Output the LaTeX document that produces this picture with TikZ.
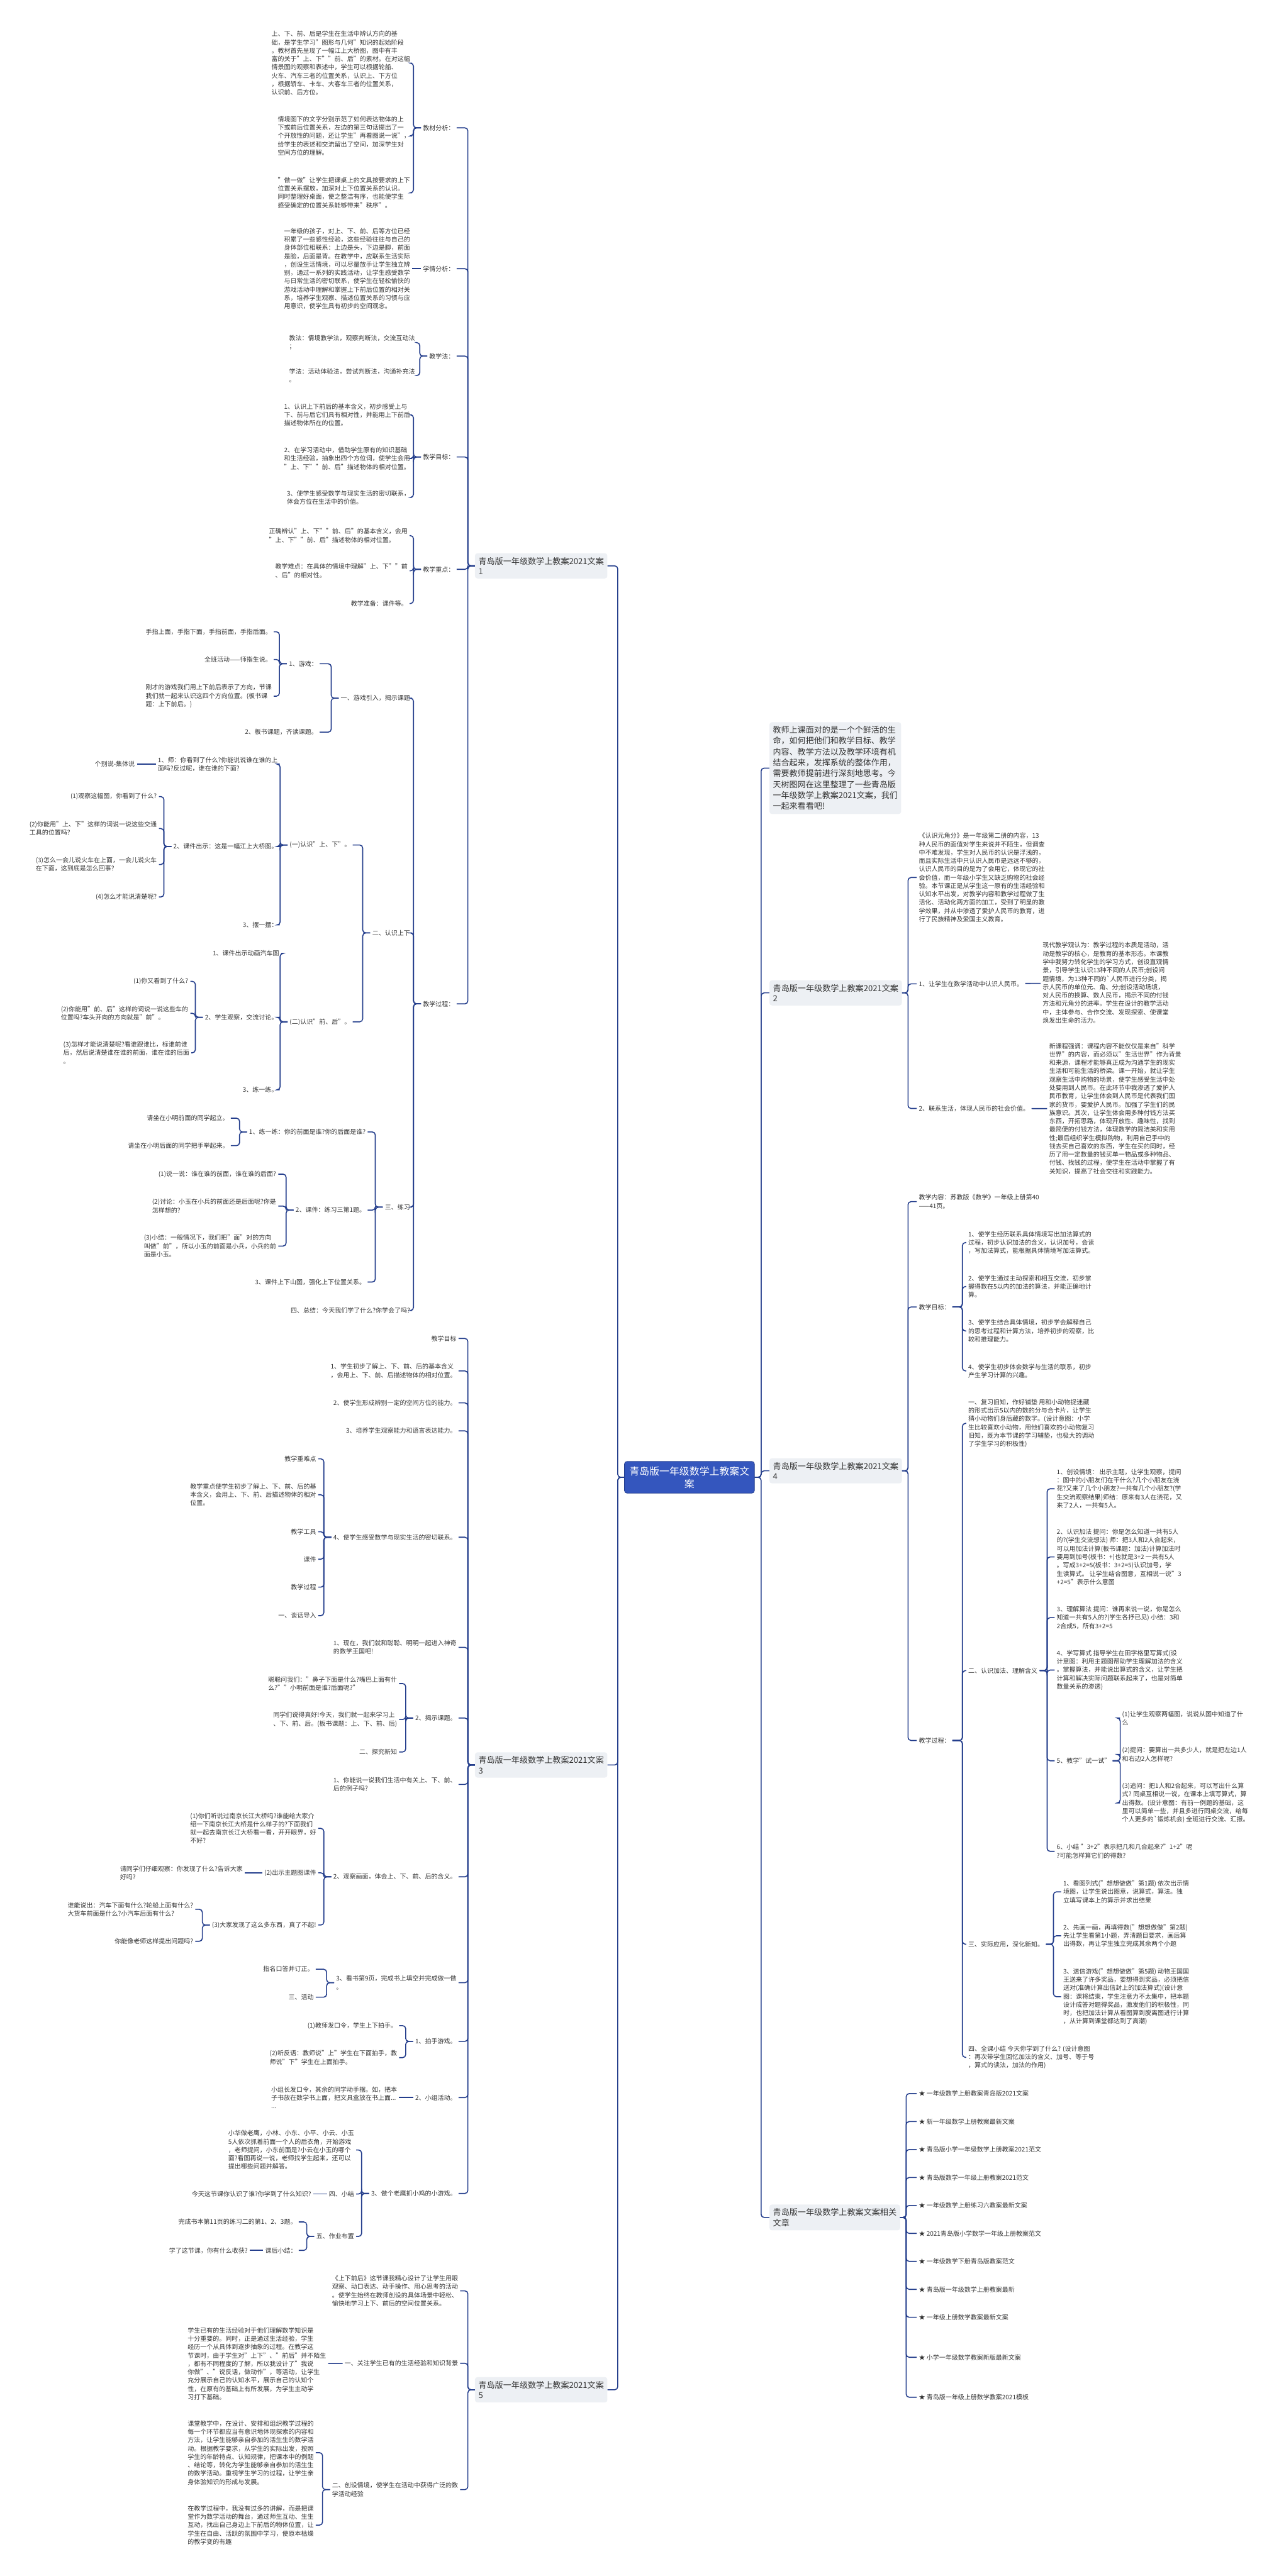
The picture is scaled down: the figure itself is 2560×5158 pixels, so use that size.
\documentclass[tikz,border=0pt]{standalone}
\usepackage{fontspec}
\setmainfont{Noto Sans CJK SC}
\usepackage{tikz}
\definecolor{mapline}{RGB}{36,62,140}
\definecolor{maptext}{RGB}{51,51,51}
\definecolor{topicbg}{RGB}{237,240,244}
\definecolor{rootbg}{RGB}{52,86,190}
\tikzset{
  txt/.style  ={font=\fontsize{12.6}{16.7}\selectfont, text=maptext, align=left, inner xsep=4pt, inner ysep=2pt},
  tl/.style   ={txt, anchor=east},
  tr/.style   ={txt, anchor=west},
  topic/.style={fill=topicbg, rounded corners=5pt, text=maptext, align=left, inner xsep=7pt, inner ysep=8pt, font=\fontsize{16.5}{20.5}\selectfont},
  intro/.style={topic, font=\fontsize{16.4}{21.8}\selectfont, anchor=west},
  root/.style ={fill=rootbg, draw=mapline, line width=1pt, rounded corners=5pt, text=white, align=center, inner xsep=10pt, inner ysep=10pt, font=\fontsize{20}{25}\selectfont},
  lk/.style   ={draw=mapline, line width=2pt, rounded corners=6pt},
}

\begin{document}
\begin{tikzpicture}[x=1pt,y=-1pt]
  \useasboundingbox (0,0) rectangle (2560,5158);
  \node[root] (root) at (1380,2958) {青岛版一年级数学上教案文\\案};
  \node[topic,anchor=east] (w1) at (1216,1133) {青岛版一年级数学上教案2021文案\\1};
  \node[topic,anchor=east] (w3) at (1216,3534) {青岛版一年级数学上教案2021文案\\3};
  \node[topic,anchor=east] (w5) at (1216,4785) {青岛版一年级数学上教案2021文案\\5};
  \node[intro] (intro) at (1540,1538) {教师上课面对的是一个个鲜活的生\\命，如何把他们和教学目标、教学\\内容、教学方法以及教学环境有机\\结合起来，发挥系统的整体作用，\\需要教师提前进行深刻地思考。今\\天树图网在这里整理了一些青岛版\\一年级数学上教案2021文案，我们\\一起来看看吧!};
  \node[topic,anchor=west] (w2) at (1540,1988) {青岛版一年级数学上教案2021文案\\2};
  \node[topic,anchor=west] (w4) at (1540,2945) {青岛版一年级数学上教案2021文案\\4};
  \node[topic,anchor=west] (w6) at (1540,4440) {青岛版一年级数学上教案文案相关\\文章};
  \foreach \t in {w1,w3,w5} \draw[lk] (root.west) -- ++(-13,0) |- (\t.east);
  \foreach \t in {intro,w2,w4,w6} \draw[lk] (root.east) -- ++(13,0) |- (\t.west);

  % 文案1
  \node[tl] (w1a) at (914,256) {教材分析：};
  \node[tl] (w1b) at (914,538) {学情分析：};
  \node[tl] (w1c) at (914,713) {教学法：};
  \node[tl] (w1d) at (914,915) {教学目标：};
  \node[tl] (w1e) at (914,1140) {教学重点：};
  \node[tl] (w1f) at (914,2010) {教学过程：};
  \foreach \c in {w1a,w1b,w1c,w1d,w1e,w1f} \draw[lk] (w1.west) -- ++(-14,0) |- (\c.east);
  \node[tl] (w1a1) at (825,126.5) {上、下、前、后是学生在生活中辨认方向的基\\础，是学生学习"图形与几何"知识的起始阶段\\。教材首先呈现了一幅江上大桥图，图中有丰\\富的关于"上、下""前、后"的素材。在对这幅\\情景图的观察和表述中，学生可以根据轮船、\\火车、汽车三者的位置关系，认识上、下方位\\，根据轿车、卡车、大客车三者的位置关系，\\认识前、后方位。};
  \node[tl] (w1a2) at (825,272) {情境图下的文字分别示范了如何表达物体的上\\下或前后位置关系，左边的第三句话提出了一\\个开放性的问题，还让学生"再看图说一说"，\\给学生的表述和交流留出了空间，加深学生对\\空间方位的理解。};
  \node[tl] (w1a3) at (825,386) {"做一做"让学生把课桌上的文具按要求的上下\\位置关系摆放，加深对上下位置关系的认识。\\同时整理好桌面，使之整洁有序，也能使学生\\感受确定的位置关系能够带来"秩序"。};
  \foreach \c in {w1a1,w1a2,w1a3} \draw[lk] (w1a.west) -- ++(-15,0) |- (\c.east);
  \node[tl] (w1b1) at (825,538) {一年级的孩子，对上、下、前、后等方位已经\\积累了一些感性经验，这些经验往往与自己的\\身体部位相联系：上边是头，下边是脚，前面\\是脸，后面是背。在教学中，应联系生活实际\\，创设生活情境，可以尽量放手让学生独立辨\\别，通过一系列的实践活动，让学生感受数学\\与日常生活的密切联系，使学生在轻松愉快的\\游戏活动中理解和掌握上下前后位置的相对关\\系，培养学生观察、描述位置关系的习惯与应\\用意识，使学生具有初步的空间观念。};
  \draw[lk] (w1b) -- (w1b1);
  \node[tl] (w1c1) at (835,686) {教法：情境教学法，观察判断法，交流互动法\\；};
  \node[tl] (w1c2) at (835,752) {学法：活动体验法，尝试判断法，沟通补充法\\。};
  \foreach \c in {w1c1,w1c2} \draw[lk] (w1c.west) -- ++(-15,0) |- (\c.east);
  \node[tl] (w1d1) at (825,830.6) {1、认识上下前后的基本含义，初步感受上与\\下、前与后它们具有相对性，并能用上下前后\\描述物体所在的位置。};
  \node[tl] (w1d2) at (825,918) {2、在学习活动中，借助学生原有的知识基础\\和生活经验，抽象出四个方位词，使学生会用\\"上、下""前、后"描述物体的相对位置。};
  \node[tl] (w1d3) at (825,996) {3、使学生感受数学与现实生活的密切联系，\\体会方位在生活中的价值。};
  \foreach \c in {w1d1,w1d2,w1d3} \draw[lk] (w1d.west) -- ++(-15,0) |- (\c.east);
  \node[tl] (w1e1) at (820,1072.5) {正确辨认"上、下""前、后"的基本含义，会用\\"上、下""前、后"描述物体的相对位置。};
  \node[tl] (w1e2) at (820,1143) {教学难点：在具体的情境中理解"上、下""前\\、后"的相对性。};
  \node[tl] (w1e3) at (820,1208.5) {教学准备：课件等。};
  \foreach \c in {w1e1,w1e2,w1e3} \draw[lk] (w1e.west) -- ++(-15,0) |- (\c.east);
  \node[tl] (w1f1) at (825,1398) {一、游戏引入，揭示课题};
  \node[tl] (w1f2) at (825,1868) {二、认识上下};
  \node[tl] (w1f3) at (825,2417) {三、练习};
  \node[tl] (w1f4) at (825,2624) {四、总结：今天我们学了什么?你学会了吗?};
  \foreach \c in {w1f1,w1f2,w1f3,w1f4} \draw[lk] (w1f.west) -- ++(-15,0) |- (\c.east);
  \node[tl] (g1) at (640,1329) {1、游戏：};
  \node[tl] (g2) at (640,1466) {2、板书课题，齐读课题。};
  \foreach \c in {g1,g2} \draw[lk] (w1f1.west) -- ++(-15,0) |- (\c.east);
  \node[tl] (g1a) at (548,1265) {手指上面，手指下面，手指前面，手指后面。};
  \node[tl] (g1b) at (548,1320.5) {全班活动——师指生说。};
  \node[tl] (g1c) at (548,1394) {刚才的游戏我们用上下前后表示了方向，节课\\我们就一起来认识这四个方向位置。(板书课\\题：上下前后。)};
  \foreach \c in {g1a,g1b,g1c} \draw[lk] (g1.west) -- ++(-15,0) |- (\c.east);
  \node[tl] (s1) at (706,1692) {(一)认识"上、下"。};
  \node[tl] (s2) at (706,2046) {(二)认识"前、后"。};
  \foreach \c in {s1,s2} \draw[lk] (w1f2.west) -- ++(-15,0) |- (\c.east);
  \node[tl] (s1a) at (560,1530) {1、师：你看到了什么?你能说说谁在谁的上\\面吗?反过呢，谁在谁的下面?};
  \node[tl] (s1b) at (560,1695) {2、课件出示：这是一幅江上大桥图。};
  \node[tl] (s1c) at (560,1852) {3、摆一摆：};
  \foreach \c in {s1a,s1b,s1c} \draw[lk] (s1.west) -- ++(-15,0) |- (\c.east);
  \node[tl] (s1a1) at (274,1530) {个别说-集体说};
  \draw[lk] (s1a) -- (s1a1);
  \node[tl] (s1b1) at (318,1595) {(1)观察这幅图，你看到了什么?};
  \node[tl] (s1b2) at (318,1659) {(2)你能用"上、下"这样的词说一说这些交通\\工具的位置吗?};
  \node[tl] (s1b3) at (318,1731) {(3)怎么一会儿说火车在上面，一会儿说火车\\在下面，这到底是怎么回事?};
  \node[tl] (s1b4) at (318,1796) {(4)怎么才能说清楚呢?};
  \foreach \c in {s1b1,s1b2,s1b3,s1b4} \draw[lk] (s1b.west) -- ++(-15,0) |- (\c.east);
  \node[tl] (s2a) at (563,1909) {1、课件出示动画汽车图};
  \node[tl] (s2b) at (560,2037) {2、学生观察，交流讨论。};
  \node[tl] (s2c) at (560,2182) {3、练一练。};
  \foreach \c in {s2a,s2b,s2c} \draw[lk] (s2.west) -- ++(-15,0) |- (\c.east);
  \node[tl] (s2b1) at (381,1965) {(1)你又看到了什么?};
  \node[tl] (s2b2) at (381,2029) {(2)你能用"前、后"这样的词说一说这些车的\\位置吗?车头开向的方向就是"前"。};
  \node[tl] (s2b3) at (383,2108) {(3)怎样才能说清楚呢?看谁跟谁比，标谁前谁\\后，然后说清楚谁在谁的前面，谁在谁的后面\\。};
  \foreach \c in {s2b1,s2b2,s2b3} \draw[lk] (s2b.west) -- ++(-15,0) |- (\c.east);
  \node[tl] (p1) at (736,2266.5) {1、练一练：你的前面是谁?你的后面是谁?};
  \node[tl] (p2) at (736,2423) {2、课件：练习三第1题。};
  \node[tl] (p3) at (736,2567) {3、课件上下山图，强化上下位置关系。};
  \foreach \c in {p1,p2,p3} \draw[lk] (w1f3.west) -- ++(-15,0) |- (\c.east);
  \node[tl] (p1a) at (462,2239) {请坐在小明前面的同学起立。};
  \node[tl] (p1b) at (462,2294) {请坐在小明后面的同学把手举起来。};
  \foreach \c in {p1a,p1b} \draw[lk] (p1.west) -- ++(-15,0) |- (\c.east);
  \node[tl] (p2a) at (557,2351) {(1)说一说：谁在谁的前面，谁在谁的后面?};
  \node[tl] (p2b) at (557,2415) {(2)讨论：小玉在小兵的前面还是后面呢?你是\\怎样想的?};
  \node[tl] (p2c) at (557,2495) {(3)小结：一般情况下，我们把"面"对的方向\\叫做"前"，所以小玉的前面是小兵，小兵的前\\面是小玉。};
  \foreach \c in {p2a,p2b,p2c} \draw[lk] (p2.west) -- ++(-15,0) |- (\c.east);

  % 文案3
  \node[tl] (w3a) at (918,2680) {教学目标};
  \node[tl] (w3b) at (918,2745) {1、学生初步了解上、下、前、后的基本含义\\，会用上、下、前、后描述物体的相对位置。};
  \node[tl] (w3c) at (918,2809) {2、使学生形成辨别一定的空间方位的能力。};
  \node[tl] (w3d) at (918,2865) {3、培养学生观察能力和语言表达能力。};
  \node[tl] (w3e) at (918,3078) {4、使学生感受数学与现实生活的密切联系。};
  \node[tl] (w3f) at (918,3298.5) {1、现在，我们就和聪聪、明明一起进入神奇\\的数学王国吧!};
  \node[tl] (w3g) at (918,3440) {2、揭示课题。};
  \node[tl] (w3h) at (918,3573) {1、你能说一说我们生活中有关上、下、前、\\后的例子吗?};
  \node[tl] (w3i) at (918,3758) {2、观察画面，体会上、下、前、后的含义。};
  \node[tl] (w3j) at (918,3970) {3、看书第9页，完成书上填空并完成做一做\\。};
  \node[tl] (w3k) at (918,4087.5) {1、拍手游戏。};
  \node[tl] (w3l) at (918,4200) {2、小组活动。};
  \node[tl] (w3m) at (918,4392) {3、做个老鹰抓小鸡的小游戏。};
  \foreach \c in {w3a,w3b,w3c,w3d,w3e,w3f,w3g,w3h,w3i,w3j,w3k,w3l,w3m} \draw[lk] (w3.west) -- ++(-14,0) |- (\c.east);
  \node[tl] (w3e1) at (637,2921) {教学重难点};
  \node[tl] (w3e2) at (637,2993) {教学重点使学生初步了解上、下、前、后的基\\本含义，会用上、下、前、后描述物体的相对\\位置。};
  \node[tl] (w3e3) at (637,3067) {教学工具};
  \node[tl] (w3e4) at (637,3122) {课件};
  \node[tl] (w3e5) at (637,3178) {教学过程};
  \node[tl] (w3e6) at (637,3235) {一、谈话导入};
  \foreach \c in {w3e1,w3e2,w3e3,w3e4,w3e5,w3e6} \draw[lk] (w3e.west) -- ++(-15,0) |- (\c.east);
  \node[tl] (w3g1) at (799,3371) {聪聪问我们："鼻子下面是什么?嘴巴上面有什\\么?""小明前面是谁?后面呢?"};
  \node[tl] (w3g2) at (799,3443) {同学们说得真好!今天，我们就一起来学习上\\、下、前、后。(板书课题：上、下、前、后)};
  \node[tl] (w3g3) at (799,3508) {二、探究新知};
  \foreach \c in {w3g1,w3g2,w3g3} \draw[lk] (w3g.west) -- ++(-15,0) |- (\c.east);
  \node[tl] (w3i1) at (637,3661) {(1)你们听说过南京长江大桥吗?谁能给大家介\\绍一下南京长江大桥是什么样子的?下面我们\\就一起去南京长江大桥看一看，开开眼界，好\\不好?};
  \node[tl] (w3i2) at (637,3750) {(2)出示主题图课件};
  \node[tl] (w3i3) at (637,3854.5) {(3)大家发现了这么多东西，真了不起!};
  \foreach \c in {w3i1,w3i2,w3i3} \draw[lk] (w3i.west) -- ++(-15,0) |- (\c.east);
  \node[tl] (w3i2a) at (490,3750) {请同学们仔细观察：你发现了什么?告诉大家\\好吗?};
  \draw[lk] (w3i2) -- (w3i2a);
  \node[tl] (w3i3a) at (391,3823) {谁能说出：汽车下面有什么?轮船上面有什么?\\大货车前面是什么?小汽车后面有什么?};
  \node[tl] (w3i3b) at (391,3887) {你能像老师这样提出问题吗?};
  \foreach \c in {w3i3a,w3i3b} \draw[lk] (w3i3.west) -- ++(-15,0) |- (\c.east);
  \node[tl] (w3j1) at (632,3943) {指名口答并订正。};
  \node[tl] (w3j2) at (632,3999) {三、活动};
  \foreach \c in {w3j1,w3j2} \draw[lk] (w3j.west) -- ++(-15,0) |- (\c.east);
  \node[tl] (w3k1) at (799,4056) {(1)教师发口令，学生上下拍手。};
  \node[tl] (w3k2) at (799,4120) {(2)听反语：教师说"上"学生在下面拍手，教\\师说"下"学生在上面拍手。};
  \foreach \c in {w3k1,w3k2} \draw[lk] (w3k.west) -- ++(-15,0) |- (\c.east);
  \node[tl] (w3l1) at (799,4200) {小组长发口令，其余的同学动手摆。如，把本\\子书放在数学书上面，把文具盒放在书上面...\\...};
  \draw[lk] (w3l) -- (w3l1);
  \node[tl] (w3m1) at (713,4305) {小华做老鹰，小林、小东、小平、小云、小玉\\5人依次抓着前面一个人的后衣角，开始游戏\\，老师提问，小东前面是?小云在小玉的哪个\\面?看图再说一说，老师找学生起来，还可以\\提出哪些问题并解答。};
  \node[tl] (w3m2) at (713,4393) {四、小结};
  \node[tl] (w3m3) at (713,4478) {五、作业布置};
  \foreach \c in {w3m1,w3m2,w3m3} \draw[lk] (w3m.west) -- ++(-15,0) |- (\c.east);
  \node[tl] (w3m2a) at (627,4393) {今天这节课你认识了谁?你学到了什么知识?};
  \draw[lk] (w3m2) -- (w3m2a);
  \node[tl] (w3m3a) at (598,4449) {完成书本第11页的练习二的第1、2、3题。};
  \node[tl] (w3m3b) at (598,4506) {课后小结：};
  \foreach \c in {w3m3a,w3m3b} \draw[lk] (w3m3.west) -- ++(-15,0) |- (\c.east);
  \node[tl] (w3m3b1) at (500,4506) {学了这节课，你有什么收获?};
  \draw[lk] (w3m3b) -- (w3m3b1);

  % 文案5
  \node[tl] (w5a) at (921,4587) {《上下前后》这节课我精心设计了让学生用眼\\观察、动口表达、动手操作、用心思考的活动\\。使学生始终在教师创设的具体场景中轻松、\\愉快地学习上下、前后的空间位置关系。};
  \node[tl] (w5b) at (921,4732) {一、关注学生已有的生活经验和知识背景};
  \node[tl] (w5c) at (921,4985) {二、创设情境，使学生在活动中获得广泛的数\\学活动经验};
  \foreach \c in {w5a,w5b,w5c} \draw[lk] (w5.west) -- ++(-14,0) |- (\c.east);
  \node[tl] (w5b1) at (657,4733) {学生已有的生活经验对于他们理解数学知识是\\十分重要的。同时，正是通过生活经验，学生\\经历一个从具体到逐步抽象的过程。在教学这\\节课时，由于学生对"上下"、"前后"并不陌生\\，都有不同程度的了解，所以我设计了"我说\\你做"、"说反话，做动作"，等活动，让学生\\充分展示自己的认知水平，展示自己的认知个\\性，在原有的基础上有所发展，为学生主动学\\习打下基础。};
  \draw[lk] (w5b) -- (w5b1);
  \node[tl] (w5c1) at (632,4911) {课堂教学中，在设计、安排和组织教学过程的\\每一个环节都应当有意识地体现探索的内容和\\方法，让学生能够亲自参加的活生生的数学活\\动。根据教学要求，从学生的实际出发，按照\\学生的年龄特点、认知规律，把课本中的例题\\、结论等，转化为学生能够亲自参加的活生生\\的数学活动。重视学生学习的过程，让学生亲\\身体验知识的形成与发展。};
  \node[tl] (w5c2) at (632,5056) {在教学过程中，我没有过多的讲解，而是把课\\堂作为数学活动的舞台，通过师生互动、生生\\互动，找出自己身边上下前后的物体位置，让\\学生在自由、活跃的氛围中学习，使原本枯燥\\的教学变的有趣};
  \foreach \c in {w5c1,w5c2} \draw[lk] (w5c.west) -- ++(-15,0) |- (\c.east);

  % 文案2
  \node[tr] (w2a) at (1835,1757) {《认识元角分》是一年级第二册的内容，13\\种人民币的面值对学生来说并不陌生，但调查\\中不难发现，学生对人民币的认识是浮浅的，\\而且实际生活中只认识人民币是远远不够的，\\认识人民币的目的是为了会用它，体现它的社\\会价值，而一年级小学生又缺乏购物的社会经\\验。本节课正是从学生这一原有的生活经验和\\认知水平出发，对教学内容和教学过程做了生\\活化、活动化两方面的加工，受到了明显的教\\学效果，并从中渗透了爱护人民币的教育，进\\行了民族精神及爱国主义教育。};
  \node[tr] (w2b) at (1835,1970) {1、让学生在数学活动中认识人民币。};
  \node[tr] (w2c) at (1835,2219.5) {2、联系生活，体现人民币的社会价值。};
  \foreach \c in {w2a,w2b,w2c} \draw[lk] (w2.east) -- ++(12,0) |- (\c.west);
  \node[tr] (w2b1) at (2083,1968) {现代教学观认为：教学过程的本质是活动，活\\动是教学的核心，是教育的基本形态。本课教\\学中我努力转化学生的学习方式，创设直观情\\景，引导学生认识13种不同的人民币;创设问\\题情境，为13种不同的\textasciigrave 人民币进行分类，揭\\示人民币的单位元、角、分;创设活动场境，\\对人民币的换算、数人民币，揭示不同的付钱\\方法和元角分的进率。学生在设计的教学活动\\中，主体参与、合作交流、发现探索、使课堂\\焕发出生命的活力。};
  \draw[lk] (w2b) -- (w2b1);
  \node[tr] (w2c1) at (2096,2220) {新课程强调：课程内容不能仅仅是来自"科学\\世界"的内容，而必须以"生活世界"作为背景\\和来源，课程才能够真正成为沟通学生的现实\\生活和可能生活的桥梁。课一开始，就让学生\\观察生活中购物的场景，使学生感受生活中处\\处要用到人民币。在此环节中我渗透了爱护人\\民币教育，让学生体会到人民币是代表我们国\\家的货币，要爱护人民币。加强了学生们的民\\族意识。其次，让学生体会用多种付钱方法买\\东西，开拓思路，体现开放性、趣味性，找到\\最简便的付钱方法，体现数学的简洁美和实用\\性;最后组织学生模拟购物，利用自己手中的\\钱去买自己喜欢的东西，学生在买的同时，经\\历了用一定数量的钱买单一物品或多种物品、\\付钱、找钱的过程，使学生在活动中掌握了有\\关知识，提高了社会交往和实践能力。};
  \draw[lk] (w2c) -- (w2c1);

  % 文案4
  \node[tr] (w4a) at (1835,2406) {教学内容：苏教版《数学》一年级上册第40\\——41页。};
  \node[tr] (w4b) at (1835,2617) {教学目标：};
  \node[tr] (w4c) at (1835,3485) {教学过程：};
  \foreach \c in {w4a,w4b,w4c} \draw[lk] (w4.east) -- ++(12,0) |- (\c.west);
  \node[tr] (w4b1) at (1934,2488) {1、使学生经历联系具体情境写出加法算式的\\过程，初步认识加法的含义，认识加号，会读\\，写加法算式，能根据具体情境写加法算式。};
  \node[tr] (w4b2) at (1934,2576) {2、使学生通过主动探索和相互交流，初步掌\\握得数在5以内的加法的算法，并能正确地计\\算。};
  \node[tr] (w4b3) at (1934,2665) {3、使学生结合具体情境，初步学会解释自己\\的思考过程和计算方法，培养初步的观察，比\\较和推理能力。};
  \node[tr] (w4b4) at (1934,2745) {4、使学生初步体会数学与生活的联系，初步\\产生学习计算的兴趣。};
  \foreach \c in {w4b1,w4b2,w4b3,w4b4} \draw[lk] (w4b.east) -- ++(20,0) |- (\c.west);
  \node[tr] (w4c1) at (1934,2850) {一、复习旧知，作好铺垫 用和小动物捉迷藏\\的形式出示5以内的数的分与合卡片，让学生\\猜小动物们身后藏的数字。(设计意图：小学\\生比较喜欢小动物，用他们喜欢的小动物复习\\旧知，既为本节课的学习辅垫，也极大的调动\\了学生学习的积极性)};
  \node[tr] (w4c2) at (1934,3345) {二、认识加法、理解含义};
  \node[tr] (w4c3) at (1934,3893) {三、实际应用，深化新知。};
  \node[tr] (w4c4) at (1934,4119.5) {四、全课小结 今天你学到了什么? (设计意图\\：再次带学生回忆加法的含义、加号、等于号\\，算式的读法，加法的作用)};
  \foreach \c in {w4c1,w4c2,w4c3,w4c4} \draw[lk] (w4c.east) -- ++(20,0) |- (\c.west);
  \node[tr] (w4c2a) at (2111,2981) {1、创设情境： 出示主题，让学生观察，提问\\：图中的小朋友们在干什么?几个小朋友在浇\\花?又来了几个小朋友?一共有几个小朋友?(学\\生交流观察结果)师结：原来有3人在浇花，又\\来了2人，一共有5人。};
  \node[tr] (w4c2b) at (2111,3117.5) {2、认识加法 提问：你是怎么知道一共有5人\\的?(学生交流想法) 师：把3人和2人合起来，\\可以用加法计算(板书课题：加法)计算加法时\\要用到加号(板书：+)也就是3+2 一共有5人\\。写成3+2=5(板书：3+2=5)认识加号，学\\生读算式。 让学生结合图意，互相说一说"3\\+2=5"表示什么意图};
  \node[tr] (w4c2c) at (2111,3239) {3、理解算法 提问：谁再来说一说，你是怎么\\知道一共有5人的?(学生各抒已见) 小结：3和\\2合成5，所有3+2=5};
  \node[tr] (w4c2d) at (2111,3344) {4、学写算式 指导学生在田字格里写算式(设\\计意图：利用主题图帮助学生理解加法的含义\\。掌握算法，并能说出算式的含义，让学生把\\计算和解决实际问题联系起来了，也是对简单\\数量关系的渗透)};
  \node[tr] (w4c2e) at (2111,3525.6) {5、教学"试一试"};
  \node[tr] (w4c2f) at (2111,3707) {6、小结 "3+2"表示把几和几合起来?"1+2"呢\\?可能怎样算它们的得数?};
  \foreach \c in {w4c2a,w4c2b,w4c2c,w4c2d,w4c2e,w4c2f} \draw[lk] (w4c2.east) -- ++(15,0) |- (\c.west);
  \node[tr] (w4e1) at (2242,3440) {(1)让学生观察两幅图，说说从图中知道了什\\么};
  \node[tr] (w4e2) at (2242,3513) {(2)提问：要算出一共多少人，就是把左边1人\\和右边2人怎样呢?};
  \node[tr] (w4e3) at (2242,3610) {(3)追问：把1人和2合起来，可以写出什么算\\式? 同桌互相说一说，在课本上填写算式，算\\出得数。(设计意图：有前一例题的基础，这\\里可以简单一些，并且多进行同桌交流，给每\\个人更多的\textasciigrave 锻炼机会) 全班进行交流、汇报。};
  \foreach \c in {w4e1,w4e2,w4e3} \draw[lk] (w4c2e.east) -- ++(15,0) |- (\c.west);
  \node[tr] (w4c3a) at (2124,3788) {1、看图列式("想想做做"第1题) 依次出示情\\境图，让学生说出图意，说算式，算法。独\\立填写课本上的算示并求出结果};
  \node[tr] (w4c3b) at (2124,3876) {2、先画一画，再填得数("想想做做"第2题)\\先让学生看第1小题，弄清题目要求，画后算\\出得数，再让学生独立完成其余两个小题};
  \node[tr] (w4c3c) at (2124,3998) {3、送信游戏("想想做做"第5题) 动物王国国\\王送来了许多奖品，要想得到奖品，必须把信\\送对(准确计算出信封上的加法算式)(设计意\\图：课将结束，学生注意力不太集中，把本题\\设计成答对题得奖品，激发他们的积极性，同\\时，也把加法计算从看图算到脱离图进行计算\\，从计算到课堂都达到了高潮)};
  \foreach \c in {w4c3a,w4c3b,w4c3c} \draw[lk] (w4c3.east) -- ++(15,0) |- (\c.west);

  % 相关文章
  \node[tr] (r1) at (1835,4192) {★ 一年级数学上册教案青岛版2021文案};
  \node[tr] (r2) at (1835,4248) {★ 新一年级数学上册教案最新文案};
  \node[tr] (r3) at (1835,4304) {★ 青岛版小学一年级数学上册教案2021范文};
  \node[tr] (r4) at (1835,4360) {★ 青岛版数学一年级上册教案2021范文};
  \node[tr] (r5) at (1835,4416) {★ 一年级数学上册练习六教案最新文案};
  \node[tr] (r6) at (1835,4472) {★ 2021青岛版小学数学一年级上册教案范文};
  \node[tr] (r7) at (1835,4528) {★ 一年级数学下册青岛版教案范文};
  \node[tr] (r8) at (1835,4584) {★ 青岛版一年级数学上册教案最新};
  \node[tr] (r9) at (1835,4640) {★ 一年级上册数学教案最新文案};
  \node[tr] (r10) at (1835,4720) {★ 小学一年级数学教案新版最新文案};
  \node[tr] (r11) at (1835,4800) {★ 青岛版一年级上册数学教案2021模板};
  \foreach \c in {r1,r2,r3,r4,r5,r6,r7,r8,r9,r10,r11} \draw[lk] (w6.east) -- ++(12,0) |- (\c.west);
\end{tikzpicture}
\end{document}
